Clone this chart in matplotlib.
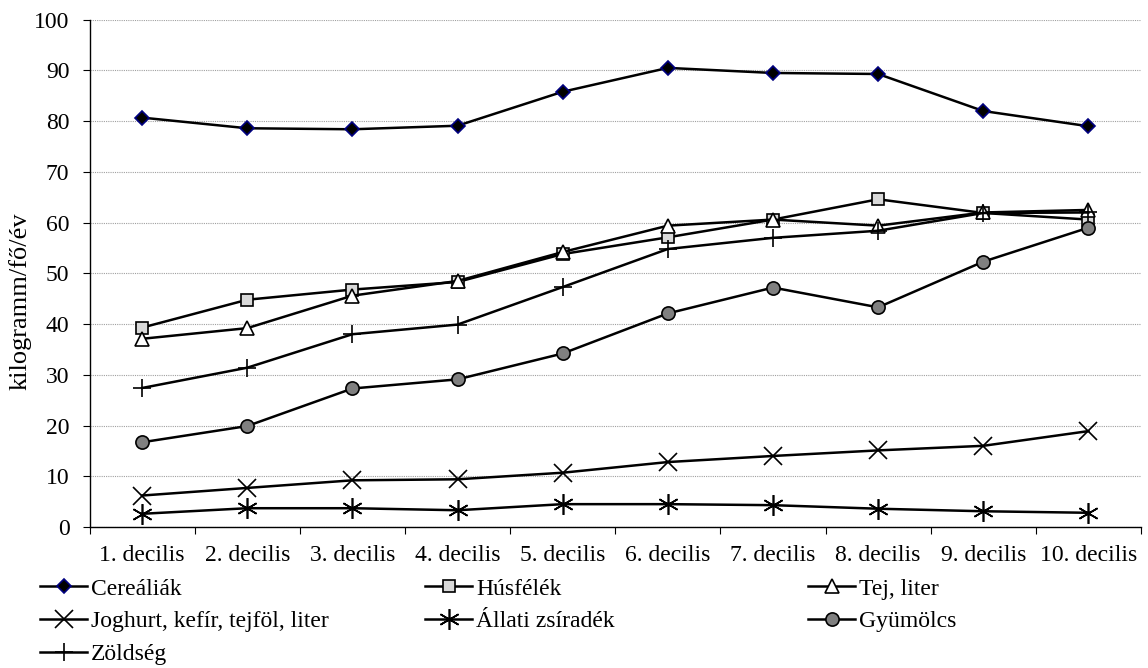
import numpy as np
import matplotlib
matplotlib.use("Agg")
import matplotlib.pyplot as plt

plt.rcParams['font.family'] = ['Liberation Serif', 'DejaVu Serif']

# data (kilogramm/fő/év)
deciles = ['1. decilis', '2. decilis', '3. decilis', '4. decilis', '5. decilis',
           '6. decilis', '7. decilis', '8. decilis', '9. decilis', '10. decilis']
cerealiak = [80.7, 78.6, 78.4, 79.1, 85.8, 90.5, 89.5, 89.3, 82.0, 79.0]
husfelek = [39.3, 44.8, 46.8, 48.3, 53.8, 57.1, 60.6, 64.6, 61.9, 60.6]
tej = [37.1, 39.2, 45.6, 48.5, 54.2, 59.4, 60.6, 59.4, 62.0, 62.5]
joghurt = [6.2, 7.7, 9.2, 9.4, 10.7, 12.8, 14.0, 15.1, 16.0, 18.9]
allati_zsir = [2.6, 3.7, 3.7, 3.3, 4.5, 4.5, 4.3, 3.6, 3.1, 2.8]
gyumolcs = [16.7, 19.9, 27.3, 29.1, 34.2, 42.1, 47.2, 43.3, 52.3, 59.0]
zoldseg = [27.4, 31.4, 38.0, 39.9, 47.3, 54.8, 57.0, 58.4, 61.9, 62.0]

FS = 17
LW = 1.8
MEW = 1.2

fig = plt.figure(figsize=(11.48, 6.68), dpi=100)
ax = fig.add_axes([0.078, 0.2111, 0.9159, 0.7594])
x = np.arange(len(deciles))

series = [
    ('Cereáliák', cerealiak, dict(marker='D', ms=7, mfc='black', mec='#000080')),
    ('Húsfélék', husfelek, dict(marker='s', ms=9, mfc='#d9d9d9', mec='black')),
    ('Tej, liter', tej, dict(marker='^', ms=10, mfc='white', mec='black')),
    ('Joghurt, kefír, tejföl, liter', joghurt, dict(marker='x', ms=13, mec='black')),
    ('Állati zsíradék', allati_zsir, dict(marker=(6, 2, 0), ms=15, mec='black')),
    ('Gyümölcs', gyumolcs, dict(marker='o', ms=9.5, mfc='#808080', mec='black')),
    ('Zöldség', zoldseg, dict(marker='+', ms=13, mec='black')),
]

handles = {}
for label, vals, style in series:
    h, = ax.plot(x, vals, color='black', lw=LW, mew=MEW, label=label,
                 zorder=3, **style)
    handles[label] = h

ax.set_xlim(-0.5, len(deciles) - 0.5)
ax.set_ylim(0, 100)
ax.set_yticks(np.arange(0, 101, 10))
ax.yaxis.grid(True, color='#a0a0a0', lw=0.8, ls=(0, (1, 1)))
ax.set_axisbelow(True)

# category boundaries carry the tick marks, labels sit in the middle
ax.set_xticks(np.arange(-0.5, len(deciles), 1))
ax.set_xticklabels([])
ax.set_xticks(x, minor=True)
ax.set_xticklabels(deciles, minor=True)
ax.tick_params(axis='x', which='major', direction='out', length=5, width=0.8)
ax.tick_params(axis='x', which='minor', length=0, pad=13, labelsize=FS)
ax.tick_params(axis='y', direction='out', length=5, width=0.8, pad=9.5, labelsize=FS)

for s in ['top', 'right']:
    ax.spines[s].set_visible(False)
for s in ['left', 'bottom']:
    ax.spines[s].set_linewidth(1.0)

ax.set_ylabel('kilogramm/fő/év', fontsize=19)
ax.yaxis.set_label_coords(-0.0548, 0.4455)

# legend: three columns laid out row by row
cols = [['Cereáliák', 'Joghurt, kefír, tejföl, liter', 'Zöldség'],
        ['Húsfélék', 'Állati zsíradék'],
        ['Tej, liter', 'Gyümölcs']]
col_x = [40 / 1148, 425 / 1148, 808 / 1148]
for cx, names in zip(col_x, cols):
    fig.legend([handles[n] for n in names], names, loc='upper left',
               bbox_to_anchor=(cx, 1 - 578 / 668), frameon=False,
               fontsize=FS, borderpad=0, borderaxespad=0,
               handlelength=2.0, handletextpad=0.17, labelspacing=0.47)

fig.savefig('out.png', dpi=100)
